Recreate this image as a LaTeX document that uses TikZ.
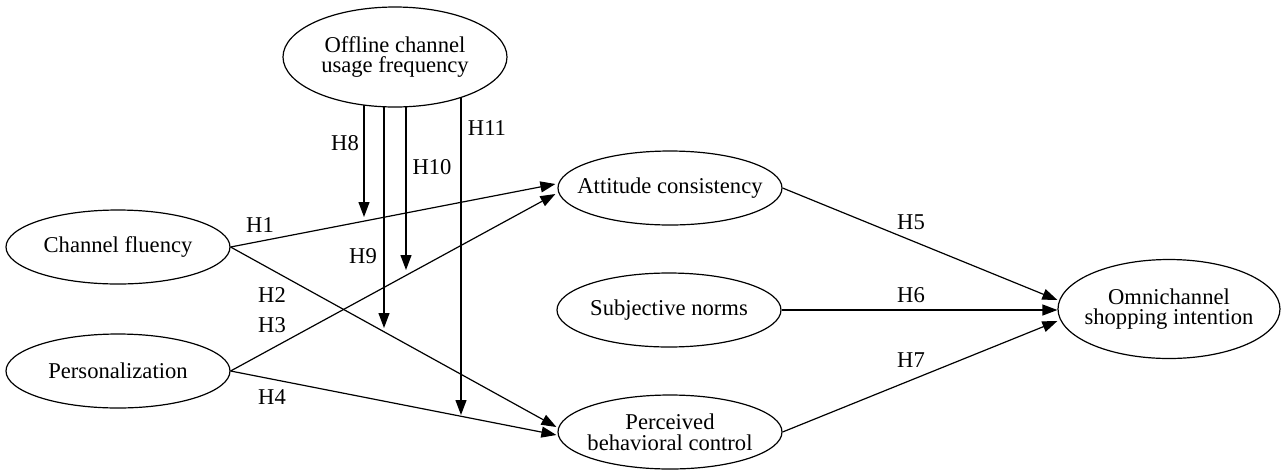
\documentclass[tikz,border=0pt]{standalone}
\usepackage{fontspec}
\setmainfont{Liberation Serif}
\usetikzlibrary{shapes.geometric,arrows.meta,calc,backgrounds}
\begin{document}
\begin{tikzpicture}[x=0.5pt,y=-0.5pt,
  ell/.style={ellipse,draw,line width=0.6pt,fill=white,inner sep=0pt,minimum width=112pt,minimum height=37pt},
  big/.style={ell,minimum height=50pt},
  txt/.style={font=\fontsize{11.3}{10.3}\selectfont,align=center,inner sep=0pt},
  hyp/.style={font=\fontsize{11.3}{10.3}\selectfont,inner sep=0pt},
  arr/.style={line width=0.6pt,-{Triangle[length=7.5pt,width=5.5pt]}}]
\useasboundingbox (0,0) rectangle (1282,473);

% ellipses
\node[big] (off) at (395,57) {};
\node[ell] (cf) at (118,247) {};
\node[ell] (pers) at (118,371) {};
\node[ell] (att) at (670,188) {};
\node[ell] (sn) at (669,310) {};
\node[ell] (pbc) at (670,432) {};
\node[big,minimum width=111pt,minimum height=49.5pt] (omni) at (1169,309) {};

% texts
\node[txt] (off-t) at (off) {Offline channel\\usage frequency};
\node[txt] (cf-t) at (cf) {Channel fluency};
\node[txt] (pers-t) at (pers) {Personalization};
\node[txt] (att-t) at (att) {Attitude consistency};
\node[txt] (sn-t) at (sn) {Subjective norms};
\node[txt] (pbc-t) at (pbc) {Perceived\\behavioral control};
\node[txt] (omni-t) at (omni) {Omnichannel\\shopping intention};

% moderator arrow tips
\coordinate (t8) at (364,217);
\coordinate (t9) at (384,328);
\coordinate (t10) at (406,270);
\coordinate (t11) at (461,415);
\begin{scope}[on background layer]
\draw[arr] (t8 |- off.center) -- (t8);
\draw[arr] (t9 |- off.center) -- (t9);
\draw[arr] (t10 |- off.center) -- (t10);
\draw[arr] (t11 |- off.center) -- (t11);
\end{scope}

% main paths
\draw[arr] (cf.east) -- ($(att.west)+(-2,-4)$);
\draw[arr] (cf.east) -- ($(pbc.west)+(-1,-5)$);
\draw[arr] (pers.east) -- ($(att.west)+(-2,6)$);
\draw[arr] (pers.east) -- ($(pbc.west)+(-1,3)$);
\draw[arr] (att.east) -- ($(omni.west)+(0,-9)$);
\draw[arr] (sn.east) -- ($(omni.west)+(0,1)$);
\draw[arr] (pbc.east) -- ($(omni.west)+(0,12)$);

% labels
\node[hyp] (h1) at (260,225) {H1};
\node[hyp] (h2) at (272,295) {H2};
\node[hyp] (h3) at (272,325) {H3};
\node[hyp] (h4) at (272,397) {H4};
\node[hyp] (h5) at (911,222) {H5};
\node[hyp] (h6) at (911,295) {H6};
\node[hyp] (h7) at (911,360) {H7};
\node[hyp] (h8) at (345,143) {H8};
\node[hyp] (h9) at (363,256) {H9};
\node[hyp] (h10) at (432,167) {H10};
\node[hyp] (h11) at (487,128) {H11};
\end{tikzpicture}
\end{document}
